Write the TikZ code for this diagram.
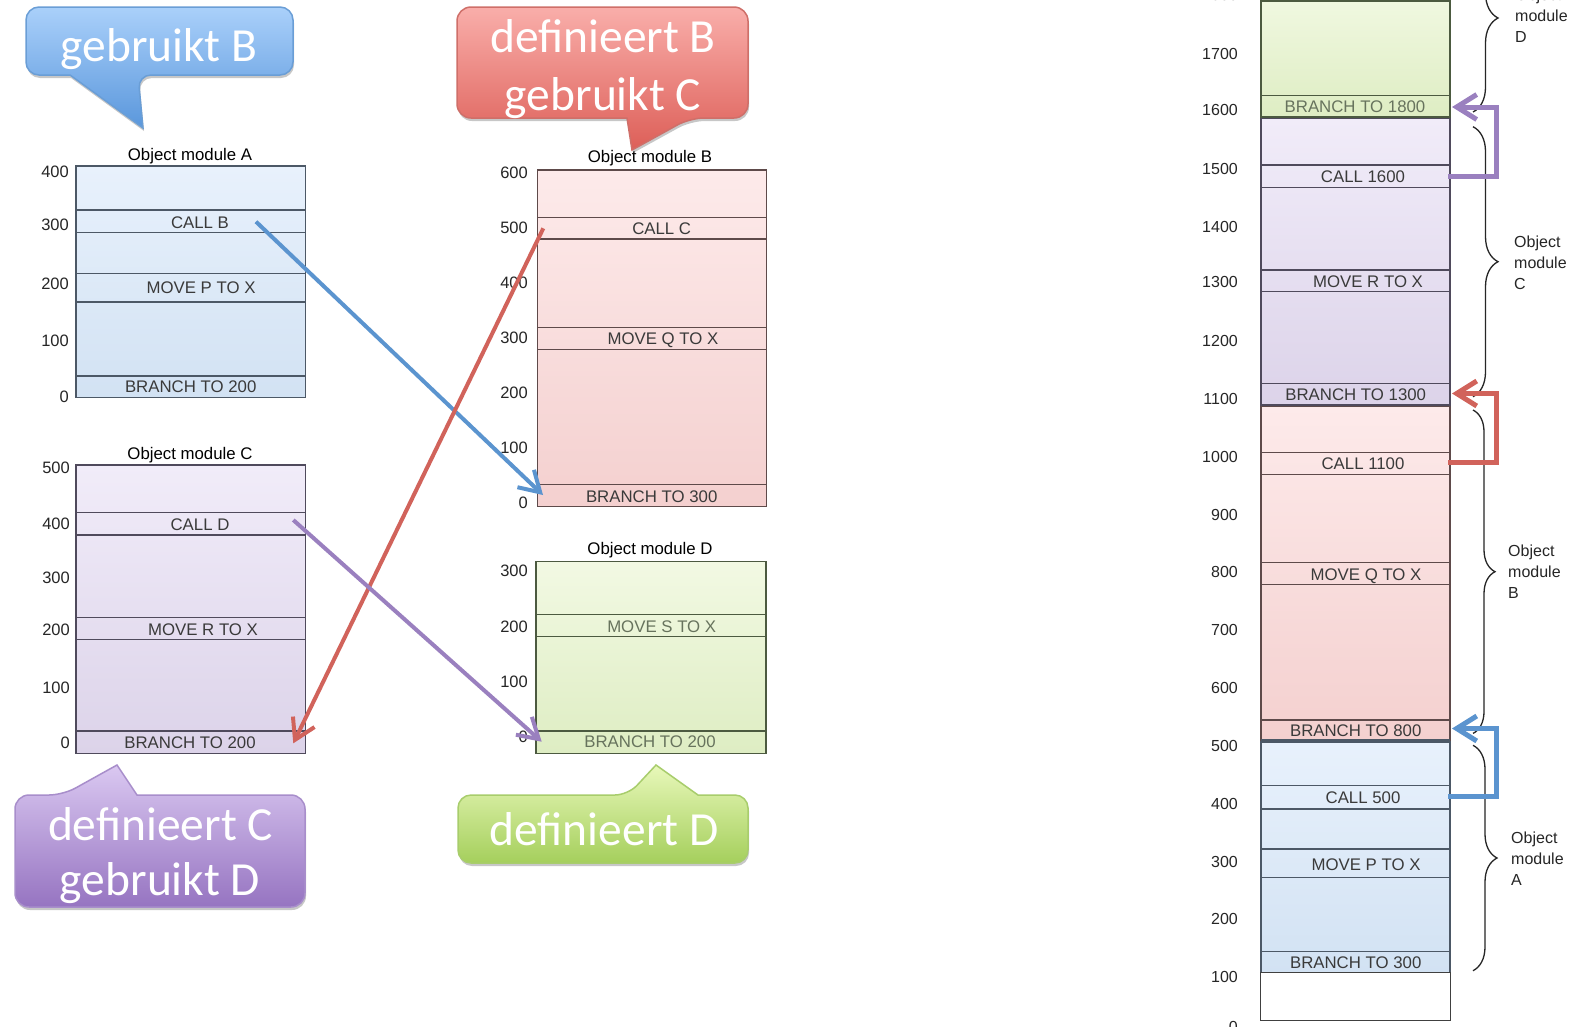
\documentclass[tikz,border=0pt]{standalone}
\usepackage{fontspec}
\setmainfont{Liberation Sans}
\newfontfamily\bubblefont{Carlito}
\usetikzlibrary{arrows.meta,decorations.pathreplacing,shadows}

% module fills and outlines
\definecolor{aTop}{HTML}{E8F1FC}\definecolor{aBot}{HTML}{D2E2F3}\definecolor{aLine}{HTML}{4C5866}
\definecolor{bTop}{HTML}{FDEAEA}\definecolor{bBot}{HTML}{F4D0CF}\definecolor{bLine}{HTML}{5E4A4A}
\definecolor{cTop}{HTML}{F1ECF9}\definecolor{cBot}{HTML}{DCD3E9}\definecolor{cLine}{HTML}{4F4A5C}
\definecolor{dTop}{HTML}{F2F9E3}\definecolor{dBot}{HTML}{DEEDC3}\definecolor{dLine}{HTML}{4C5A40}
% connector colours
\definecolor{blueArr}{HTML}{5B94CF}
\definecolor{redArr}{HTML}{D1635B}
\definecolor{purArr}{HTML}{9A80BF}
% speech bubble colours
\definecolor{bluTop}{HTML}{AAD0FA}\definecolor{bluBot}{HTML}{5A97DC}\definecolor{bluEdge}{HTML}{6A9ED6}
\definecolor{redTop}{HTML}{F9AEAA}\definecolor{redBot}{HTML}{DD5F58}\definecolor{redEdge}{HTML}{CF6F69}
\definecolor{purTop}{HTML}{DAC8F1}\definecolor{purBot}{HTML}{9674C1}\definecolor{purEdge}{HTML}{A88ECB}
\definecolor{grnTop}{HTML}{E8F8BA}\definecolor{grnBot}{HTML}{A5CF5C}\definecolor{grnEdge}{HTML}{A8CD6C}
\definecolor{txtGray}{HTML}{3A3A3A}

\begin{document}
\begin{tikzpicture}[x=1pt,y=-1pt,
  rowtext/.style={font=\fontsize{16.8}{18}\selectfont, text=txtGray, inner sep=0pt, text height=12pt, text depth=0pt},
  axislbl/.style={font=\fontsize{16.5}{18}\selectfont, text=black!85, anchor=east, inner sep=0pt, text height=11.8pt, text depth=0pt},
  raxislbl/.style={font=\fontsize{16}{18}\selectfont, text=black!85, anchor=east, inner sep=0pt, text height=11.5pt, text depth=0pt},
  modtitle/.style={font=\fontsize{16.8}{18}\selectfont, inner sep=0pt, text height=11.8pt, text depth=3pt},
  bubble/.style n args={3}{top color=#1, bottom color=#2, draw=#3, line width=1.5pt,
     drop shadow={shadow xshift=1pt, shadow yshift=-3pt, opacity=0.22, fill=black}},
  bubbletext/.style={font=\bubblefont\fontsize{47.5}{52}\selectfont, text=white, inner sep=0pt, anchor=base},
  link/.style={draw=#1, line width=4pt, -{Straight Barb[length=20pt,width=24pt]}},
  jump/.style={draw=#1, line width=5pt, line join=miter, -{Straight Barb[length=20pt,width=25pt]}},
  brace/.style={decorate, decoration={brace, amplitude=#1}, line width=1.3pt, draw=black!85},
  bracelbl/.style={font=\fontsize{16}{21}\selectfont, align=left, anchor=west, inner sep=0pt, text=black!85},
]
\clip (0,0) rectangle (1571,1026);
\fill[white] (0,0) rectangle (1571,1026);

% ---------------- speech bubbles ----------------
\path[bubble={bluTop}{bluBot}{bluEdge}] (70,75) [rounded corners=13pt] -- (26,75) -- (26,7) -- (293,7) -- (293,75) -- (138,75) [sharp corners] -- (143,128) -- cycle;
\node[bubbletext] (bubA) at (159,61.5) {gebruikt B};

\path[bubble={redTop}{redBot}{redEdge}] (627,118) [rounded corners=14pt] -- (457,118) -- (457,7) -- (748,7) -- (748,118) -- (690,118) [sharp corners] -- (632,150) -- cycle;
\node[bubbletext] (bubB1) at (603,52) {definieert B};
\node[bubbletext] (bubB2) at (603,110) {gebruikt C};

\path[bubble={purTop}{purBot}{purEdge}] (137,795) [rounded corners=14pt] -- (305,795) -- (305,907) -- (15,907) -- (15,795) -- (63,795) [sharp corners] -- (117,765) -- cycle;
\node[bubbletext] (bubC1) at (160.5,840) {definieert C};
\node[bubbletext] (bubC2) at (160,895) {gebruikt D};

\path[bubble={grnTop}{grnBot}{grnEdge}] (698,795) [rounded corners=13pt] -- (748,795) -- (748,863) -- (458,863) -- (458,795) -- (628,795) [sharp corners] -- (656,765) -- cycle;
\node[bubbletext] (bubD) at (604,845) {definieert D};

% ---------------- object module A ----------------
\node[modtitle] (titA) at (190,156) {Object module A};
\shade[top color=aTop, bottom color=aBot] (76,166) rectangle (305.5,397.7);
\draw[aLine, line width=1.4pt] (76,166) rectangle (305.5,397.7)
  (76,210) -- (305.5,210) (76,232.7) -- (305.5,232.7)
  (76,273.3) -- (305.5,273.3) (76,302) -- (305.5,302)
  (76,376) -- (305.5,376);
\node[rowtext] (aCallB) at (200,222.5) {CALL B};
\node[rowtext] (aMove) at (201,287.3) {MOVE P TO X};
\node[rowtext] (aBranch) at (190.7,386.8) {BRANCH TO 200};
\node[axislbl] (ax400) at (69,172) {400};
\node[axislbl] (ax300) at (69,225) {300};
\node[axislbl] (ax200) at (69,284) {200};
\node[axislbl] (ax100) at (69,341) {100};
\node[axislbl] (ax0) at (69,397) {0};

% ---------------- object module B ----------------
\node[modtitle] (titB) at (650,158) {Object module B};
\shade[top color=bTop, bottom color=bBot] (537.3,170) rectangle (766.7,506.7);
\draw[bLine, line width=1.4pt] (537.3,170) rectangle (766.7,506.7)
  (537.3,217.3) -- (766.7,217.3) (537.3,239) -- (766.7,239)
  (537.3,327.7) -- (766.7,327.7) (537.3,349.3) -- (766.7,349.3)
  (537.3,484.3) -- (766.7,484.3);
\node[rowtext] (bCallC) at (661.7,228.3) {CALL C};
\node[rowtext] (bMove) at (663,338.3) {MOVE Q TO X};
\node[rowtext] (bBranch) at (651.7,496) {BRANCH TO 300};
\node[axislbl] (bx600) at (528,173) {600};
\node[axislbl] (bx500) at (528,228) {500};
\node[axislbl] (bx400) at (528,283) {400};
\node[axislbl] (bx300) at (528,338) {300};
\node[axislbl] (bx200) at (528,393) {200};
\node[axislbl] (bx100) at (528,448) {100};
\node[axislbl] (bx0) at (528,503) {0};

% ---------------- object module C ----------------
\node[modtitle] (titC) at (190,455) {Object module C};
\shade[top color=cTop, bottom color=cBot] (76,465) rectangle (305.5,753.3);
\draw[cLine, line width=1.4pt] (76,465) rectangle (305.5,753.3)
  (76,512.7) -- (305.5,512.7) (76,535) -- (305.5,535)
  (76,617.7) -- (305.5,617.7) (76,639.3) -- (305.5,639.3)
  (76,731) -- (305.5,731);
\node[rowtext] (cCallD) at (200,524.3) {CALL D};
\node[rowtext] (cMove) at (203,629) {MOVE R TO X};
\node[rowtext] (cBranch) at (190,742.3) {BRANCH TO 200};
\node[axislbl] (cx500) at (70,468) {500};
\node[axislbl] (cx400) at (70,524) {400};
\node[axislbl] (cx300) at (70,577.7) {300};
\node[axislbl] (cx200) at (70,630) {200};
\node[axislbl] (cx100) at (70,687.7) {100};
\node[axislbl] (cx0) at (70,743) {0};

% ---------------- object module D ----------------
\node[modtitle] (titD) at (650,550) {Object module D};
\shade[top color=dTop, bottom color=dBot] (536,561.7) rectangle (766,753.3);
\draw[dLine, line width=1.4pt] (536,561.7) rectangle (766,753.3)
  (536,614.3) -- (766,614.3) (536,636.7) -- (766,636.7)
  (536,731) -- (766,731);
\node[rowtext, text=dLine!85] (dMove) at (661.7,626) {MOVE S TO X};
\node[rowtext, text=dLine!85] (dBranch) at (650,741.7) {BRANCH TO 200};
\node[axislbl] (dx300) at (528,571) {300};
\node[axislbl] (dx200) at (528,626.7) {200};
\node[axislbl] (dx100) at (528,681.7) {100};
\node[axislbl] (dx0) at (528,736.7) {0};

% ---------------- external references (unlinked) ----------------
\coordinate (srcA) at (256,221.7);
\coordinate (dstB) at (543,495);
\coordinate (srcB) at (543.3,228.3);
\coordinate (dstC) at (293.3,743.3);
\coordinate (srcC) at (293.3,520);
\coordinate (dstD) at (541.7,741.7);
\draw[link=blueArr] (srcA) -- (dstB);
\draw[link=redArr] (srcB) -- (dstC);
\draw[link=purArr] (srcC) -- (dstD);

% ---------------- linked load image ----------------
% module D
\shade[top color=dTop!90!dBot, bottom color=dBot] (1261,1) rectangle (1450,117);
\draw[dLine, line width=1.5pt] (1261,1) rectangle (1450,117) (1261,95.7) -- (1450,95.7);
\draw[dLine, line width=3pt] (1261,117) -- (1450,117);
\node[rowtext, text=dLine!85] (mD1800) at (1355,106.7) {BRANCH TO 1800};
% module C
\shade[top color=cTop, bottom color=cBot] (1261,118.5) rectangle (1450,405);
\draw[cLine, line width=1.4pt] (1261,118.5) rectangle (1450,405)
  (1261,165) -- (1450,165) (1261,187.3) -- (1450,187.3)
  (1261,270) -- (1450,270) (1261,291.7) -- (1450,291.7)
  (1261,383.3) -- (1450,383.3);
\draw[cLine, line width=3pt] (1261,405) -- (1450,405);
\node[rowtext] (mC1600) at (1363,176.7) {CALL 1600};
\node[rowtext] (mCmove) at (1368,281.7) {MOVE R TO X};
\node[rowtext] (mC1300) at (1355.7,394) {BRANCH TO 1300};
% module B
\shade[top color=bTop, bottom color=bBot] (1261,406.5) rectangle (1450,740);
\draw[bLine, line width=1.4pt] (1261,406.5) rectangle (1450,740)
  (1261,452.3) -- (1450,452.3) (1261,474.3) -- (1450,474.3)
  (1261,562.3) -- (1450,562.3) (1261,584.3) -- (1450,584.3)
  (1261,720) -- (1450,720);
\draw[aLine, line width=3pt] (1261,740.5) -- (1450,740.5);
\node[rowtext] (mB1100) at (1363,463.3) {CALL 1100};
\node[rowtext] (mBmove) at (1366,574) {MOVE Q TO X};
\node[rowtext] (mB800) at (1355.7,730.5) {BRANCH TO 800};
% module A
\shade[top color=aTop, bottom color=aBot] (1261,742) rectangle (1450,972.7);
\draw[aLine, line width=1.4pt] (1261,742) rectangle (1450,972.7)
  (1261,785.7) -- (1450,785.7) (1261,809) -- (1450,809)
  (1261,849) -- (1450,849) (1261,877.3) -- (1450,877.3)
  (1261,951.7) -- (1450,951.7);
\node[rowtext] (mA500) at (1363,797.7) {CALL 500};
\node[rowtext] (mAmove) at (1366,864) {MOVE P TO X};
\node[rowtext] (mA300) at (1355.7,962.3) {BRANCH TO 300};
% free space below
\draw[black!75, line width=1.5pt] (1260.5,972.7) rectangle (1450.5,1020.7);

% address scale
\foreach \v/\y in {1800/-5,1700/53.3,1600/110,1500/168.3,1400/226.7,1300/282,1200/341,1100/399,
                   1000/457,900/515,800/572,700/630,600/688,500/746,400/804,300/862,200/919,100/977,0/1027}
  \node[raxislbl] (r\v) at (1238,\y) {\v};

% module extents
\draw[brace=25pt] (1473,-76) -- (1473,112);
\draw[brace=25pt] (1473,126.7) -- (1473,396.7);
\draw[brace=22pt] (1473,410) -- (1473,733.4);
\draw[brace=24pt] (1473,745.3) -- (1473,970.7);
\node[bracelbl] (lD) at (1515,16) {Object\\module\\D};
\node[bracelbl] (lC) at (1514,263) {Object\\module\\C};
\node[bracelbl] (lB) at (1508,572) {Object\\module\\B};
\node[bracelbl] (lA) at (1511,859) {Object\\module\\A};

% relocated jumps
\coordinate (jP) at (1448,176);
\coordinate (tP) at (1452,107);
\coordinate (jR) at (1448,462);
\coordinate (tR) at (1452,393.5);
\coordinate (jB) at (1448,796);
\coordinate (tB) at (1452,728.5);
\draw[jump=purArr] (jP) -- ++(48,0) |- (tP);
\draw[jump=redArr] (jR) -- ++(48,0) |- (tR);
\draw[jump=blueArr] (jB) -- ++(48,0) |- (tB);
\end{tikzpicture}
\end{document}
